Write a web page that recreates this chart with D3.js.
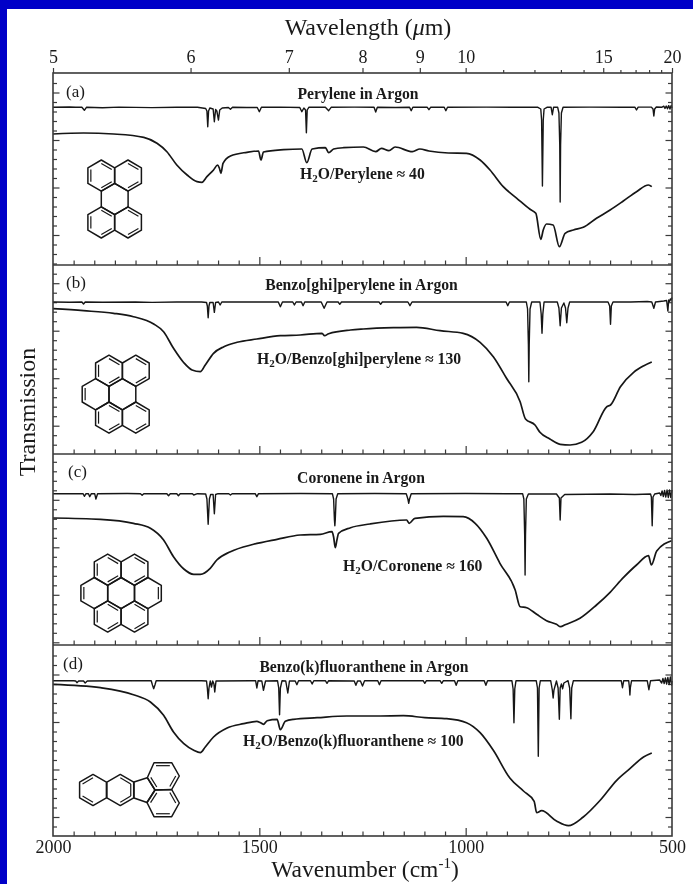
<!DOCTYPE html>
<html><head><meta charset="utf-8">
<script src="https://d3js.org/d3.v7.min.js"></script>
<style>
html,body{margin:0;padding:0;background:#fff;overflow:hidden}
svg{display:block;filter:blur(0.35px)}
text{font-family:"Liberation Serif","Times New Roman",serif;fill:#1a1a1a}
</style></head><body><svg id="c" width="693" height="884"></svg>
<script>
// ---- Data (x: wavenumber in cm-1, y: relative transmission in arbitrary units) ----
const argonA=[[2000,157.7],[1960,158],[1945,157.7],[1930,157.7],[1924,154.7],[1919,157.7],[1880,157.3],[1840,157.9],[1760,157.4],[1700,157.8],[1650,157.7],[1630,156.5],[1627,154],[1625,138.3],[1623,154],[1620,157],[1612,156],[1609,143.3],[1606,155.5],[1603,154],[1599,145],[1596,155],[1590,157],[1575,157.5],[1570,155.7],[1565,157.7],[1530,157.5],[1505,157.5],[1500,153.3],[1495,157.7],[1450,157.9],[1402,157.5],[1397,153.3],[1392,157],[1388,155],[1386,132.3],[1384,155],[1380,157.7],[1340,157.7],[1332,154.3],[1326,157.7],[1270,157.9],[1222,157.7],[1218,153],[1214,157.7],[1170,157.5],[1136,157.7],[1132,154.3],[1128,157.7],[1093,157.7],[1089,155.3],[1085,157.7],[1052,157.7],[1048,154.3],[1044,157.7],[950,157.9],[880,157.7],[825,157.7],[818,156],[816,145],[814,79],[812,145],[810,156],[803,157.7],[793,157.7],[790,150.3],[787,157.7],[777,157.7],[774,152],[772,120],[771,63],[770,120],[768,152],[764,157.7],[700,157.9],[620,157.7],[590,157.9],[586,155],[582,157.9],[550,157.9],[546,156],[544,149],[542,156],[538,158],[525,157.7],[520,158.8],[517,156.6],[514,159],[511,156.2],[508,159.4],[505,156],[502,159.6],[500,157]];
const waterA=[[2000,131],[1926,132],[1853,131],[1780,127.7],[1748,121.7],[1724,113.3],[1700,100],[1675,90],[1651,83.3],[1639,82.7],[1627,88.3],[1611,95],[1601,100],[1597,97],[1593,91.7],[1588,101.7],[1570,109],[1530,112.7],[1502,114],[1496,105],[1490,113],[1441,115.3],[1397,116],[1385,102.3],[1372,116],[1340,117.3],[1332,112.3],[1320,116],[1296,117.3],[1248,118],[1218,113.3],[1204,116.7],[1186,114.3],[1171,118],[1129,113.3],[1111,116],[1089,114],[1042,112],[998,111.7],[965,105],[941,95],[909,78.3],[876,66.7],[844,55.7],[830,51.7],[818,25.7],[812,35],[804,41],[788,40],[773,18.3],[759,31.7],[739,35],[715,37.7],[683,46.7],[650,55],[618,64],[586,73.3],[557,80],[549,78.3]];

const argonB=[[2000,152],[1960,151.7],[1930,152],[1926,150],[1922,152],[1880,151.7],[1800,152],[1760,151.6],[1700,152],[1640,152],[1628,151.5],[1626,148],[1624,136.3],[1622,148],[1620,151.5],[1612,151.5],[1609,141.7],[1606,151.5],[1599,152],[1595,149],[1591,152],[1500,152],[1454,152],[1449,147.3],[1444,152],[1419,152],[1415,149],[1411,152],[1398,152],[1394,148.3],[1390,152],[1350,152],[1343,145.7],[1336,152],[1309,152],[1305,149.7],[1301,152],[1210,152],[1206,149.7],[1202,152],[1140,152],[1135,148.3],[1130,152],[1000,152],[902,152],[898,148.3],[894,152],[853,152],[850,145],[848,110],[847,72.3],[846,110],[844,145],[840,152],[820,152],[817,140],[815,120.7],[813,140],[810,152],[778,152],[774,146],[771,128.3],[768,146],[762,151],[758,146],[755,131.3],[752,146],[748,152],[655,152],[651,148],[649,129.7],[647,148],[643,152],[600,152],[560,152.5],[549,152],[544,145.7],[540,152],[520,153],[513,153.5],[510,143],[508,154],[506,152.5],[504,155],[502,154],[500,156.5]];
const waterB=[[2000,145.3],[1926,143.3],[1853,140.7],[1805,137.3],[1756,130],[1732,122.3],[1708,105.7],[1683,91.3],[1663,84],[1643,82.3],[1631,89],[1611,100.7],[1586,107.3],[1554,111.7],[1506,115],[1449,118.3],[1401,119],[1348,120.7],[1342,118.3],[1332,120.3],[1279,124],[1248,125],[1175,126.3],[1119,126.7],[1062,123.3],[1006,120.7],[965,111.7],[933,97.3],[901,75.7],[868,52.3],[855,35],[832,29],[820,21.7],[796,15],[771,9.7],[747,9],[719,11.7],[691,22.3],[658,47.3],[649,49],[625,67.3],[593,81.7],[568,88.3],[549,92]];

const argonC=[[2000,151.3],[1940,151.3],[1927,151.3],[1924,148.7],[1920,151.3],[1914,151.3],[1911,148.3],[1907,151.3],[1899,151.3],[1896,146],[1892,151.3],[1820,151.5],[1788,151.3],[1784,149.7],[1780,151.3],[1724,151.3],[1720,149.3],[1716,151.3],[1700,151.3],[1696,149.3],[1692,151.3],[1662,151.3],[1659,150],[1650,151.3],[1630,151],[1627,146],[1624,120.7],[1621,146],[1618,150.5],[1612,150.5],[1609,131.3],[1606,150.5],[1600,151.3],[1574,151.3],[1570,150],[1566,151.3],[1510,151.3],[1506,148.3],[1502,151.3],[1400,151.5],[1323,151.3],[1320,146],[1318,125],[1317,119.3],[1316,125],[1314,146],[1310,151.3],[1220,151.5],[1144,151.3],[1140,146],[1138,141.7],[1136,146],[1132,151.3],[1000,151.5],[900,151.3],[862,151.3],[859,146],[857,110],[856,70],[855,110],[853,146],[848,151],[780,151],[773,147],[771,125],[769,147],[760,150.5],[650,151],[590,150.5],[552,151],[550,148],[548,119.3],[546,148],[542,151],[530,152],[527,149.5],[524,154],[521,148.5],[518,154.5],[515,148],[512,155],[509,147.5],[506,155],[503,147.5],[500,155]];
const waterC=[[2000,127],[1885,125.7],[1805,121.7],[1764,116.7],[1732,105],[1708,88.3],[1683,76],[1659,70.7],[1643,70.7],[1619,76.7],[1603,85],[1570,93.3],[1514,100.7],[1457,105.7],[1401,110],[1352,110.7],[1324,113.3],[1320,108],[1316,97.3],[1312,105],[1308,111.7],[1279,117.3],[1232,121],[1143,125],[1137,121.7],[1123,126.7],[1054,128.7],[1006,128.3],[977,121.7],[949,106.7],[917,81.7],[880,55],[868,38.3],[852,37.3],[828,30.7],[804,24.3],[780,20.7],[770,18.3],[759,20.3],[723,26.7],[683,40],[650,52.7],[618,67.3],[586,80],[557,89.3],[550,80],[537,94],[501,104.3]];

const argonD=[[2000,155.3],[1950,155.3],[1945,155],[1942,153.3],[1938,155],[1926,155],[1922,153],[1917,155],[1850,155.3],[1762,155.3],[1759,151],[1756,147.3],[1753,151],[1750,155.3],[1640,155.3],[1628,155],[1626,148],[1624,137.3],[1622,148],[1619,155],[1616,149],[1613,155],[1610,152],[1608,144],[1605,155],[1520,155.3],[1509,155.3],[1506,148],[1503,155.3],[1494,155],[1490,145.7],[1485,155],[1456,155.3],[1453,148],[1451,121.3],[1449,148],[1445,155.3],[1436,155],[1431,143],[1427,155],[1413,155],[1409,151.3],[1405,155.3],[1376,155.3],[1372,152],[1368,155.3],[1340,155.3],[1336,152.7],[1332,155.3],[1270,155],[1266,150.7],[1262,155],[1255,155],[1250,150],[1245,155.3],[1213,155.3],[1209,151.3],[1205,155.3],[1103,155.3],[1099,152.7],[1095,155.3],[1062,155.3],[1058,152.7],[1054,155.3],[1027,155.3],[1023,150.7],[1019,155.3],[955,155.3],[951,150.7],[947,155.3],[888,155.3],[885,147],[883,113.3],[881,147],[878,155.3],[829,155.3],[826,148],[824,79.7],[822,148],[819,155.3],[794,155.3],[790,146],[788,138],[786,146],[780,155],[776,148],[773,116.7],[771,148],[768,152],[765,147.3],[762,153],[752,155.3],[748,148],[745,117.3],[743,148],[739,155.3],[640,155.3],[623,155.3],[620,148.3],[617,155.3],[605,155.3],[603,148],[602,141],[601,148],[598,155.3],[560,155.3],[556,146.3],[552,155.3],[530,156],[525,153],[522,157.5],[519,152.5],[516,158],[513,152],[510,158.5],[507,151.5],[504,159],[501,151],[500,155]];
const waterD=[[2000,151.7],[1885,148.3],[1805,141.3],[1764,134],[1732,120.7],[1708,104],[1683,92.3],[1659,85.7],[1643,83.3],[1631,89],[1611,99],[1578,108],[1538,112.3],[1506,114.7],[1498,113.5],[1490,111.7],[1481,115.3],[1457,116.7],[1449,106.3],[1437,114.7],[1417,116.7],[1360,118.3],[1288,120],[1212,120],[1151,120.3],[1099,118.3],[1046,117.3],[998,113.3],[965,103.3],[933,85.7],[893,58],[860,45],[834,34.7],[828,23.3],[816,25.3],[780,15],[751,10.3],[715,19],[674,35.7],[634,55.7],[602,67.3],[569,79],[549,83]];

const majorWavelengths=[5,6,7,8,9,10,15,20];
const minorWavelengths=[11,12,13,14,16,17,18,19];
const majorWavenumbers=[2000,1500,1000,500];
const minorWavenumbers=[1950,1900,1850,1800,1750,1700,1650,1600,1550,1450,1400,1350,1300,1250,1200,1150,1100,1050,950,900,850,800,750,700,650,600,550];

const panelLetters=["(a)","(b)","(c)","(d)"];
const argonTitles=["Perylene in Argon","Benzo[ghi]perylene in Argon","Coronene in Argon","Benzo(k)fluoranthene in Argon"];
const waterTitles=["Perylene ≈ 40","Benzo[ghi]perylene ≈ 130","Coronene ≈ 160","Benzo(k)fluoranthene ≈ 100"];
const argonSeries=[argonA,argonB,argonC,argonD];
const waterSeries=[waterA,waterB,waterC,waterD];
const firstMajorTick=[30,28.3,2.7,19];

// ---- Layout ----
const W=693,H=884,L=53,R=672;
const panelEdges=[73,265,454,645,836];
const letterPos=[[66,97],[66,288],[68,477],[63,669]];
const titlePos=[[358,99],[361.5,290],[361,483],[364,672]];
const waterPos=[[300,179],[257,364],[343,571],[243,746]];
const ink="#161616",frame="#3a3a3a";

const svg=d3.select("#c");
svg.append("rect").attr("width",W).attr("height",H).attr("fill","#0000c8");
svg.append("rect").attr("x",7).attr("y",9).attr("width",W-7).attr("height",H-9).attr("fill","#fff");

const x=d3.scaleLinear().domain([2000,500]).range([L,R]);
const toWn=l=>1e4/l;

function styleAxis(g,w){
  g.selectAll("path.domain").remove();
  g.selectAll(".tick line").attr("stroke",frame).attr("stroke-width",w||1.2);
  g.selectAll("text").attr("font-family",'"Liberation Serif",serif').attr("fill","#1a1a1a");
}

panelEdges.slice(0,4).forEach((top,i)=>{
  const bottom=panelEdges[i+1];
  const y=d3.scaleLinear().domain([0,bottom-top]).range([bottom,top]);
  const g=svg.append("g");
  const allV=d3.range(-20,60).map(k=>firstMajorTick[i]+9.5*k).filter(v=>v>1&&v<bottom-top-1);
  const majV=allV.filter(v=>Math.abs(((v-firstMajorTick[i])/9.5)%5)<1e-6);
  const minV=allV.filter(v=>!majV.includes(v));
  [[d3.axisRight,L],[d3.axisLeft,R]].forEach(([ax,px])=>{
    g.append("g").attr("transform",`translate(${px},0)`).call(ax(y).tickValues(majV).tickSize(6.5).tickFormat("")).call(styleAxis);
    g.append("g").attr("transform",`translate(${px},0)`).call(ax(y).tickValues(minV).tickSize(4).tickFormat("")).call(styleAxis);
  });
  g.append("g").attr("transform",`translate(0,${bottom})`).call(d3.axisTop(x).tickValues([1500,1000]).tickSize(8).tickFormat("")).call(styleAxis);
  g.append("g").attr("transform",`translate(0,${bottom})`).call(d3.axisTop(x).tickValues(minorWavenumbers).tickSize(4.5).tickFormat("")).call(styleAxis);

  const line=d3.line().x(d=>x(d[0])).y(d=>y(d[1]));
  const smooth=d3.line().x(d=>x(d[0])).y(d=>y(d[1])).curve(d3.curveMonotoneX);
  g.append("path").datum(argonSeries[i]).attr("d",line).attr("fill","none").attr("stroke",ink).attr("stroke-width",1.4).attr("stroke-linejoin","round");
  g.append("path").datum(waterSeries[i]).attr("d",smooth).attr("fill","none").attr("stroke",ink).attr("stroke-width",1.7).attr("stroke-linejoin","round");

  g.append("text").attr("x",letterPos[i][0]).attr("y",letterPos[i][1]).attr("font-size",17).text(panelLetters[i]);
  g.append("text").attr("x",titlePos[i][0]).attr("y",titlePos[i][1]).attr("text-anchor","middle").attr("font-size",15.7).attr("font-weight","bold").text(argonTitles[i]);
  const t=g.append("text").attr("x",waterPos[i][0]).attr("y",waterPos[i][1]).attr("font-size",15.7).attr("font-weight","bold");
  t.append("tspan").text("H");
  t.append("tspan").attr("dy",3).attr("font-size",11).text("2");
  t.append("tspan").attr("dy",-3).text("O/"+waterTitles[i]);
});

// frame
svg.append("rect").attr("x",L).attr("y",panelEdges[0]).attr("width",R-L).attr("height",panelEdges[4]-panelEdges[0]).attr("fill","none").attr("stroke",frame).attr("stroke-width",1.6);
svg.selectAll("line.sep").data(panelEdges.slice(1,4)).enter().append("line").attr("x1",L).attr("x2",R).attr("y1",d=>d).attr("y2",d=>d).attr("stroke",frame).attr("stroke-width",1.6);

// top axis
const topMajor=svg.append("g").attr("transform",`translate(0,${panelEdges[0]})`).call(d3.axisTop(x).tickValues(majorWavelengths.map(toWn)).tickSize(5).tickPadding(5).tickFormat(d=>String(Math.round(1e4/d)))).call(styleAxis);
topMajor.selectAll("text").attr("font-size",18);
svg.append("g").attr("transform",`translate(0,${panelEdges[0]})`).call(d3.axisTop(x).tickValues(minorWavelengths.map(toWn)).tickSize(3).tickFormat("")).call(styleAxis);

// bottom labels
const botAxis=svg.append("g").attr("transform",`translate(0,${panelEdges[4]})`).call(d3.axisBottom(x).tickValues(majorWavenumbers).tickSize(0).tickPadding(4).tickFormat(d3.format("d"))).call(styleAxis);
botAxis.selectAll("text").attr("font-size",18).attr("dy","0.71em");

// axis titles
const tt=svg.append("text").attr("x",368).attr("y",35).attr("text-anchor","middle").attr("font-size",24);
tt.append("tspan").text("Wavelength (");
tt.append("tspan").attr("font-style","italic").text("μ");
tt.append("tspan").text("m)");
const bt=svg.append("text").attr("x",365).attr("y",877).attr("text-anchor","middle").attr("font-size",23.5);
bt.append("tspan").text("Wavenumber (cm");
bt.append("tspan").attr("dy",-9).attr("font-size",15).text("-1");
bt.append("tspan").attr("dy",9).text(")");
svg.append("text").attr("transform","translate(35,412) rotate(-90)").attr("text-anchor","middle").attr("font-size",24).text("Transmission");

// ---- Molecule sketches ----
const HW=13.4,HS=15.6;
const hex=([cx,cy])=>[[cx,cy-HS],[cx+HW,cy-HS/2],[cx+HW,cy+HS/2],[cx,cy+HS],[cx-HW,cy+HS/2],[cx-HW,cy-HS/2]];
const moleculeRings=[
 [[101.3,175.6],[128,175.6],[114.7,199],[101.3,222.4],[128,222.4]].map(hex),
 [[109,370.8],[135.8,370.8],[95.6,394.2],[122.4,394.2],[109,417.6],[135.8,417.6]].map(hex),
 [[107.7,569.7],[134.5,569.7],[94.3,593.1],[121.1,593.1],[147.9,593.1],[107.7,616.5],[134.5,616.5]].map(hex),
 [hex([93,790]),hex([120.3,790]),
  [[134,782],[134,798],[147,802.5],[155,790],[147.3,777.7]],
  [[154,762.7],[171.7,762.7],[179.3,776],[171.7,789.5],[155,790],[147.3,777.7]],
  [[155,790],[171.7,789.5],[179.3,803],[171.7,816.7],[154,816.7],[147,802.5]]]
];
const moleculeDoubles=[
 [[0,0],[0,2],[0,4],[1,0],[1,2],[3,0],[3,2],[3,4],[4,0],[4,2]],
 [[0,0],[0,2],[0,4],[1,0],[1,2],[2,4],[4,0],[4,2],[4,4],[5,0],[5,2]],
 [[0,0],[0,2],[0,4],[1,0],[1,2],[2,4],[4,1],[5,0],[5,2],[5,4],[6,0],[6,2]],
 [[0,5],[0,3],[1,0],[1,2],[1,1],[3,0],[3,2],[3,4],[4,1],[4,3],[4,5]]
];
moleculeRings.forEach((rings,m)=>{
  const g=svg.append("g").attr("fill","none").attr("stroke",ink).attr("stroke-width",1.5).attr("stroke-linejoin","round");
  rings.forEach(r=>g.append("path").attr("d","M"+r.join("L")+"Z"));
  moleculeDoubles[m].forEach(([ri,e])=>{
    const r=rings[ri],c=d3.polygonCentroid(r),a=r[e],b=r[(e+1)%r.length],f=0.22;
    const p=q=>[q[0]+(c[0]-q[0])*f,q[1]+(c[1]-q[1])*f];
    g.append("path").attr("stroke-width",1.2).attr("d","M"+p(a)+"L"+p(b));
  });
});
</script></body></html>
